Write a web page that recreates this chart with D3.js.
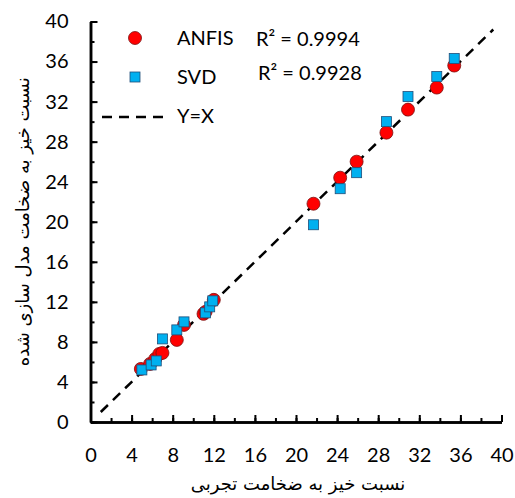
<!DOCTYPE html>
<html>
<head>
<meta charset="utf-8">
<script src="https://cdn.jsdelivr.net/npm/d3@7/dist/d3.min.js"></script>
<style>
  html, body { margin: 0; padding: 0; background: #fff; }
  svg { display: block; }
  .tick text { font-family: Lato, "Open Sans", sans-serif; font-size: 20px; fill: #000; }
</style>
</head>
<body>
<svg id="chart" width="515" height="498"></svg>
<script>
// Axis tick values
const majorTicks = [0, 4, 8, 12, 16, 20, 24, 28, 32, 36, 40];
const minorTicks = [0, 2, 4, 6, 8, 10, 12, 14, 16, 18, 20, 22, 24, 26, 28, 30, 32, 34, 36, 38, 40];

// ANFIS predictions: experimental ratio vs modelled ratio
const anfisX = [4.9, 5.8, 6.3, 6.7, 7.0, 8.4, 9.1, 11.0, 11.2, 12.0, 21.7, 24.3, 25.9, 28.8, 30.9, 33.7, 35.4];
const anfisY = [5.3, 5.8, 6.3, 6.8, 6.9, 8.2, 9.7, 10.8, 11.0, 12.2, 21.8, 24.4, 26.0, 28.9, 31.2, 33.4, 35.6];

// SVD predictions
const svdX = [5.0, 5.9, 6.4, 7.0, 8.4, 9.1, 11.2, 11.6, 11.9, 21.7, 24.3, 25.9, 28.8, 30.9, 33.7, 35.4];
const svdY = [5.2, 5.7, 6.1, 8.3, 9.2, 10.0, 10.9, 11.5, 12.1, 19.7, 23.3, 24.9, 30.0, 32.5, 34.5, 36.3];

// Legend entries and fit statistics
const legendLabels = ["ANFIS", "SVD", "Y=X"];
const r2Labels = ["R\u00B2 = 0.9994", "R\u00B2 = 0.9928"];

const xTitle = "نسبت خیز به ضخامت تجربی";
const yTitle = "نسبت خیز به ضخامت مدل سازی شده";

const svg = d3.select("#chart");

const x = d3.scaleLinear().domain([0, 40]).range([90.5, 501.5]);
const y = d3.scaleLinear().domain([0, 40]).range([422, 21.5]);

const red = "#FF0000";
const blue = "#00B0F0";

// Y = X reference line
svg.append("line")
  .attr("x1", x(1)).attr("y1", y(1))
  .attr("x2", x(39.2)).attr("y2", y(39.2))
  .attr("stroke", "#000")
  .attr("stroke-width", 2.5)
  .attr("stroke-dasharray", "10,7");

// Axes: minor ticks every 2, labelled major ticks every 4, drawn inward
function styleAxis(g) {
  g.select(".domain").attr("stroke", "#000").attr("stroke-width", 2.5);
  g.selectAll(".tick line").attr("stroke", "#000").attr("stroke-width", 2);
}

svg.append("g")
  .attr("transform", `translate(0,${y(0)})`)
  .call(d3.axisBottom(x).tickValues(minorTicks).tickSizeInner(-4).tickSizeOuter(0).tickFormat(""))
  .call(styleAxis);
svg.append("g")
  .attr("transform", `translate(0,${y(0)})`)
  .call(d3.axisBottom(x).tickValues(majorTicks).tickSizeInner(-7).tickSizeOuter(0).tickPadding(26).tickFormat(d3.format("d")))
  .call(styleAxis);

svg.append("g")
  .attr("transform", `translate(${x(0)},0)`)
  .call(d3.axisLeft(y).tickValues(minorTicks).tickSizeInner(-4).tickSizeOuter(0).tickFormat(""))
  .call(styleAxis);
svg.append("g")
  .attr("transform", `translate(${x(0)},0)`)
  .call(d3.axisLeft(y).tickValues(majorTicks).tickSizeInner(-7).tickSizeOuter(0).tickPadding(22).tickFormat(d3.format("d")))
  .call(styleAxis);

// ANFIS markers
svg.append("g").selectAll("circle")
  .data(anfisX.map((v, i) => [v, anfisY[i]]))
  .join("circle")
  .attr("cx", d => x(d[0]))
  .attr("cy", d => y(d[1]))
  .attr("r", 6.5)
  .attr("fill", red)
  .attr("stroke", "#7a1010")
  .attr("stroke-width", 0.8);

// SVD markers
const sq = 10;
svg.append("g").selectAll("rect")
  .data(svdX.map((v, i) => [v, svdY[i]]))
  .join("rect")
  .attr("x", d => x(d[0]) - sq / 2)
  .attr("y", d => y(d[1]) - sq / 2)
  .attr("width", sq)
  .attr("height", sq)
  .attr("fill", blue)
  .attr("stroke", "#1f4e79")
  .attr("stroke-width", 0.8);

// Legend
const lg = svg.append("g").attr("font-family", "Lato, 'Open Sans', sans-serif").attr("font-size", 20);
lg.append("circle").attr("cx", 135).attr("cy", 38).attr("r", 6.5)
  .attr("fill", red).attr("stroke", "#7a1010").attr("stroke-width", 0.8);
lg.append("rect").attr("x", 130).attr("y", 72).attr("width", sq).attr("height", sq)
  .attr("fill", blue).attr("stroke", "#1f4e79").attr("stroke-width", 0.8);
lg.append("line").attr("x1", 102).attr("x2", 166).attr("y1", 117).attr("y2", 117)
  .attr("stroke", "#000").attr("stroke-width", 2.5).attr("stroke-dasharray", "10,7");

const legendY = [38, 77, 116];
lg.selectAll("text.lab")
  .data(legendLabels)
  .join("text")
  .attr("class", "lab")
  .attr("x", 177)
  .attr("y", (d, i) => legendY[i])
  .attr("dy", "0.36em")
  .text(d => d);

const r2X = [256, 258];
const r2Y = [39, 73];
lg.selectAll("text.r2")
  .data(r2Labels)
  .join("text")
  .attr("class", "r2")
  .attr("x", (d, i) => r2X[i])
  .attr("y", (d, i) => r2Y[i])
  .attr("dy", "0.36em")
  .text(d => d);

// Axis titles
svg.append("text")
  .attr("x", 298)
  .attr("y", 490)
  .attr("text-anchor", "middle")
  .attr("direction", "rtl")
  .attr("font-family", "'DejaVu Sans', sans-serif")
  .attr("font-size", 18)
  .text(xTitle);

svg.append("text")
  .attr("transform", `translate(29,${(y(0) + y(40)) / 2}) rotate(-90)`)
  .attr("text-anchor", "middle")
  .attr("direction", "rtl")
  .attr("font-family", "'DejaVu Sans', sans-serif")
  .attr("font-size", 18)
  .text(yTitle);
</script>
</body>
</html>
